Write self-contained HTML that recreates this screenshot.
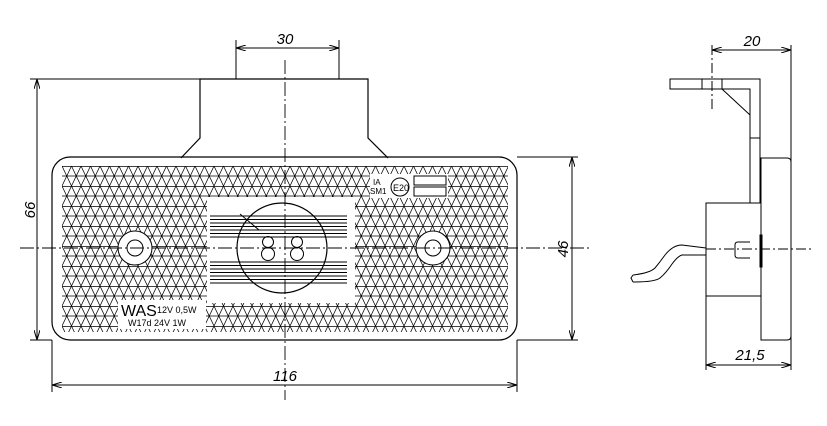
<!DOCTYPE html>
<html><head><meta charset="utf-8"><style>
html,body{margin:0;padding:0;background:#fff}
svg{display:block}
text{font-family:"Liberation Sans",sans-serif;fill:#000}
.d{font-style:italic;font-size:15px}
</style></head><body>
<svg width="827" height="426" viewBox="0 0 827 426" xmlns="http://www.w3.org/2000/svg">
<defs>
<pattern id="h" width="9.5" height="20" patternUnits="userSpaceOnUse" x="62" y="166">
<path d="M0,0 L9.5,20 M9.5,0 L0,20 M0,0.5 H9.5 M0,10 H9.5" stroke="#000" stroke-width="0.7" fill="none"/>
</pattern>
<marker id="a" markerWidth="10" markerHeight="6" refX="10" refY="3" orient="auto-start-reverse" markerUnits="userSpaceOnUse"><path d="M0,0 L10,3 L0,6" fill="none" stroke="#000" stroke-width="1"/></marker>
</defs>
<g stroke="#000" fill="none" stroke-width="1.2">
<path d="M181,158 L200,138 L200,79 L368,79 L368,138 L388,158"/>
<rect x="52" y="157" width="465" height="183" rx="18"/>
</g>
<rect x="62" y="166" width="446" height="166" fill="url(#h)"/>
<rect x="207" y="197" width="148" height="106" fill="#fff"/>
<rect x="118" y="300" width="88" height="29" fill="#fff"/>
<rect x="370" y="174" width="78" height="24" fill="#fff"/>
<g stroke="#000" fill="none" stroke-width="1">
<path d="M210,216H347M210,219.5H347M210,223H347M210,226.5H347M210,230H347M210,233.5H347M210,237H347"/>
<path d="M210,262H347M210,265.5H347M210,269H347M210,272.5H347M210,276H347M210,279.5H347M210,283H347"/>
<circle cx="282" cy="248" r="45" stroke-width="1.2" fill="none"/>
<path d="M240,214 L259,230"/>
<circle cx="268" cy="242" r="5.5"/><circle cx="268" cy="254" r="6.5"/>
<circle cx="297" cy="242" r="5.5"/><circle cx="297" cy="254" r="6.5"/>
<circle cx="135" cy="248" r="17" fill="#fff"/><circle cx="135" cy="248" r="8"/>
<circle cx="433" cy="248" r="17" fill="#fff"/><circle cx="433" cy="248" r="8"/>
<circle cx="400" cy="187" r="9" fill="#fff"/>
<rect x="414" y="176" width="32" height="9" fill="#fff"/>
<rect x="414" y="187" width="32" height="9" fill="#fff"/>
<path d="M20,248 H590" stroke-dasharray="14,3,2,3" stroke-width="0.9"/>
<path d="M285,60 V400" stroke-dasharray="14,3,2,3" stroke-width="0.9"/>
<path d="M236,40V79M339,40V79"/>
<path d="M236,48H339" marker-start="url(#a)" marker-end="url(#a)"/>
<path d="M30,79H200M30,340H52"/>
<path d="M37,79V340" marker-start="url(#a)" marker-end="url(#a)"/>
<path d="M517,157H578M517,340H578"/>
<path d="M572,157V340" marker-start="url(#a)" marker-end="url(#a)"/>
<path d="M52,340V392M517,340V392"/>
<path d="M52,385H517" marker-start="url(#a)" marker-end="url(#a)"/>
<path d="M712,45V110" stroke-dasharray="10,3,2,3"/>
<path d="M791,45V370"/>
<path d="M712,50H791" marker-start="url(#a)" marker-end="url(#a)"/>
<path d="M670,79H760V275Q760,280 755,280H754Q750,280 750,275V89H670Z"/>
<path d="M702,79V89M722,79V89M722,89L750,115M750,138H760"/>
<path d="M761,158H787Q791,158 791,162V336Q791,340 787,340H761Z"/>
<rect x="706" y="203" width="55" height="93" fill="#fff"/>
<rect x="760" y="235" width="2" height="32"/>
<path d="M750,242H738Q735,242 735,245V255Q735,258 738,258H750"/>
<path d="M706,249H812" stroke-dasharray="10,3,2,3"/>
<path d="M706,248L682,245Q673,245 665,255Q660,262 655,268Q650,273 633,275"/>
<path d="M706,255L682,255Q678,256 672,264Q666,273 660,278Q655,282 633,282"/>
<path d="M633,275L631,278L633,282"/>
<path d="M706,296V370"/>
<path d="M706,365H791" marker-start="url(#a)" marker-end="url(#a)"/>
</g>
<text class="d" x="285" y="44" text-anchor="middle">30</text>
<text class="d" x="285" y="381" text-anchor="middle">116</text>
<text class="d" transform="translate(35,210) rotate(-90)" text-anchor="middle">66</text>
<text class="d" transform="translate(568,249) rotate(-90)" text-anchor="middle">46</text>
<text class="d" x="752" y="46" text-anchor="middle">20</text>
<text class="d" x="750" y="360" text-anchor="middle">21,5</text>
<text x="121" y="316" font-size="16">WAS</text>
<text x="157" y="313" font-size="9">12V 0,5W</text>
<text x="128" y="326" font-size="9">W17d 24V 1W</text>
<text x="373" y="185" font-size="8">IA</text>
<text x="370" y="194" font-size="8">SM1</text>
<text x="393" y="191" font-size="9">E20</text>
</svg>
</body></html>
